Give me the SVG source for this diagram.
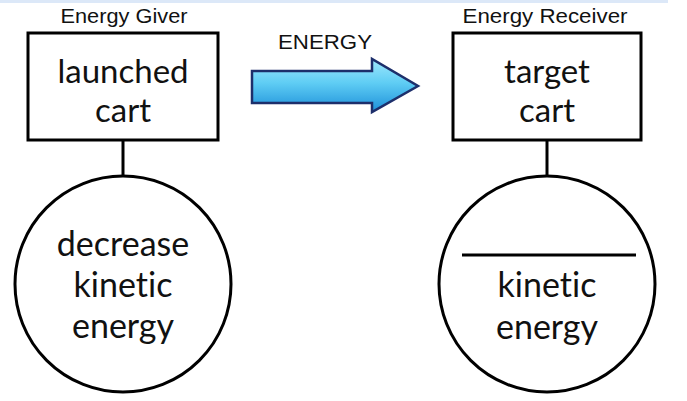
<svg xmlns="http://www.w3.org/2000/svg" width="687" height="401" viewBox="0 0 687 401">
  <defs>
    <linearGradient id="arrowGrad" x1="0" y1="0" x2="0" y2="1">
      <stop offset="0" stop-color="#9fe8fd"/>
      <stop offset="0.45" stop-color="#5fcdf4"/>
      <stop offset="1" stop-color="#1c8fd9"/>
    </linearGradient>
  </defs>
  <style>
    .box { fill: #ffffff; stroke: #000000; stroke-width: 3; }
    .circ { fill: #ffffff; stroke: #000000; stroke-width: 3; }
    .conn { stroke: #000000; stroke-width: 3; fill: none; }
    .hdr { font-family: "Liberation Sans", Arial, sans-serif; font-size: 21px; fill: #111111; text-anchor: middle; }
    .lbl { font-family: Lato, "Open Sans", sans-serif; font-size: 33px; fill: #111111; text-anchor: middle; font-variant-ligatures: none; font-feature-settings: "liga" 0, "clig" 0, "dlig" 0; }
  </style>
  <rect x="0" y="0" width="668" height="3" fill="#dce8f8"/>

  <g id="connectors">
    <line class="conn" x1="123" y1="140" x2="123" y2="176"/>
    <line class="conn" x1="547" y1="140" x2="547" y2="176"/>
  </g>

  <g id="giver-box">
    <text class="hdr" x="124" y="23" textLength="127" lengthAdjust="spacingAndGlyphs">Energy Giver</text>
    <rect class="box" x="28" y="33" width="190" height="107"/>
    <text class="lbl" x="123" y="83">launched</text>
    <text class="lbl" x="123" y="122">cart</text>
  </g>

  <g id="giver-circle">
    <circle class="circ" cx="123" cy="284" r="108"/>
    <text class="lbl" x="123" y="256" style="font-size:34px">decrease</text>
    <text class="lbl" x="123" y="297" style="font-size:34px">kinetic</text>
    <text class="lbl" x="123" y="338" style="font-size:34px">energy</text>
  </g>

  <g id="energy-arrow">
    <text class="hdr" x="325" y="49" style="font-size:20px" textLength="94" lengthAdjust="spacingAndGlyphs">ENERGY</text>
    <path d="M252,71 H372 V59 L418,86 L372,112 V103 H252 Z" fill="url(#arrowGrad)" stroke="#1d2f6b" stroke-width="2.5" stroke-linejoin="miter"/>
  </g>

  <g id="receiver-box">
    <text class="hdr" x="545" y="23" textLength="165" lengthAdjust="spacingAndGlyphs">Energy Receiver</text>
    <rect class="box" x="453" y="33" width="188" height="107"/>
    <text class="lbl" x="547" y="83">target</text>
    <text class="lbl" x="547" y="122">cart</text>
  </g>

  <g id="receiver-circle">
    <circle class="circ" cx="547" cy="284" r="108"/>
    <line class="conn" x1="462" y1="255" x2="636" y2="255"/>
    <text class="lbl" x="547" y="297" style="font-size:34px">kinetic</text>
    <text class="lbl" x="547" y="339" style="font-size:34px">energy</text>
  </g>
</svg>
